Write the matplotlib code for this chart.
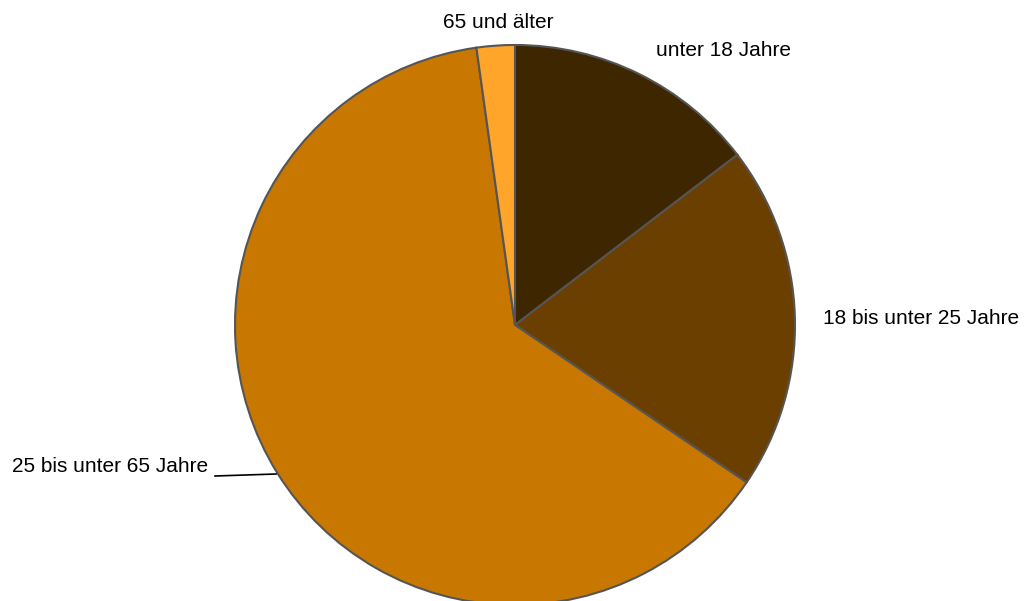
import matplotlib.pyplot as plt

plt.rcParams['font.family'] = ['Liberation Sans', 'DejaVu Sans']

# Altersgruppen und Anteile (in %)
labels = ['unter 18 Jahre', '18 bis unter 25 Jahre', '25 bis unter 65 Jahre', '65 und älter']
values = [14.6, 19.9, 63.3, 2.2]
colors = ['#3D2600', '#6B3F00', '#C87800', '#FFA62A']

W, H = 1024, 601

fig = plt.figure(figsize=(W / 100, H / 100), dpi=100)
ax = fig.add_axes([0, 0, 1, 1])
ax.set_xlim(0, W)
ax.set_ylim(0, H)
ax.axis('off')

cx, cy, r = 515, H - 325, 280
ax.pie(values, colors=colors, startangle=90, counterclock=False,
       center=(cx, cy), radius=r, frame=True,
       wedgeprops=dict(edgecolor='#555555', linewidth=1.5))
ax.set_xlim(0, W)
ax.set_ylim(0, H)
ax.set_aspect('equal')
ax.axis('off')

fs = 15
# Beschriftungen
ax.text(724, H - 50, labels[0], fontsize=fs, ha='center', va='center')
ax.text(921, H - 318, labels[1], fontsize=fs, ha='center', va='center')
ax.text(110, H - 467, labels[2], fontsize=fs, ha='center', va='center')
ax.text(498, H - 22, labels[3], fontsize=fs, ha='center', va='center')

# Führungslinie
ax.plot([215, 276], [H - 476, H - 474], color='black', linewidth=1.2)

fig.savefig('out.png', dpi=100)
